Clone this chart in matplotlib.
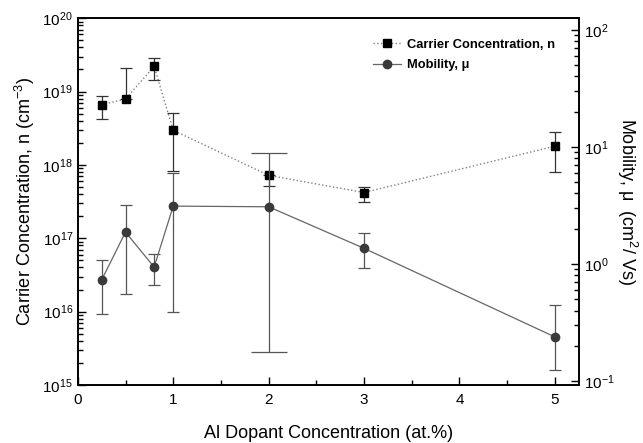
import matplotlib
matplotlib.use('Agg')
import matplotlib.pyplot as plt
import numpy as np

plt.rcParams['font.family'] = ['Liberation Sans', 'DejaVu Sans']
plt.rcParams['mathtext.fontset'] = 'custom'
plt.rcParams['mathtext.rm'] = 'Liberation Sans'

# Al dopant concentration (at.%)
al_conc = [0.25, 0.5, 0.8, 1.0, 2.0, 3.0, 5.0]

# carrier concentration (cm^-3) with lower / upper error limits
carrier = [6.6e18, 7.9e18, 2.2e19, 2.96e18, 7.2e17, 4.2e17, 1.8e18]
carrier_lo = [4.2e18, 7.9e18, 1.43e19, 8.3e17, 5.2e17, 3.1e17, 8.1e17]
carrier_hi = [8.7e18, 2.1e19, 2.9e19, 5.1e18, 7.2e17, 5.0e17, 2.8e18]

# mobility (cm^2/Vs) with lower / upper error limits
mobility = [0.73, 1.87, 0.94, 3.12, 3.08, 1.36, 0.238]
mobility_lo = [0.376, 0.55, 0.655, 0.39, 0.178, 0.92, 0.125]
mobility_hi = [1.075, 3.16, 1.21, 5.97, 8.9, 1.85, 0.45]

c = np.array(carrier)
m = np.array(mobility)
c_err = [c - np.array(carrier_lo), np.array(carrier_hi) - c]
m_err = [m - np.array(mobility_lo), np.array(mobility_hi) - m]

fig = plt.figure(figsize=(6.43, 4.43), dpi=100)
ax = fig.add_axes([0.121, 0.131, 0.779, 0.828])
ax2 = ax.twinx()

ax.errorbar(al_conc, carrier, yerr=c_err, fmt='none', ecolor='#333333',
            elinewidth=0.9, capsize=4, capthick=0.9, zorder=2)
l1, = ax.plot(al_conc, carrier, linestyle=':', color='#808080', lw=1.0,
              marker='s', ms=6, mfc='black', mec='black', zorder=3,
              label='Carrier Concentration, n')

# the 2 at.% point has wider caps in the original
wide = [4]
narrow = [i for i in range(len(al_conc)) if i not in wide]
for idx, cs in ((narrow, 4), (wide, 13)):
    ax2.errorbar([al_conc[i] for i in idx], [mobility[i] for i in idx],
                 yerr=[[m_err[0][i] for i in idx], [m_err[1][i] for i in idx]],
                 fmt='none', ecolor='#555555', elinewidth=0.9,
                 capsize=cs, capthick=0.9, zorder=2)
l2, = ax2.plot(al_conc, mobility, linestyle='-', color='#666666', lw=0.9,
               marker='o', ms=6, mfc='#3a3a3a', mec='#3a3a3a', zorder=3,
               label='Mobility, \u03bc')

ax.set_yscale('log')
ax.set_ylim(1e15, 1e20)
ax.set_xlim(0, 5.25)
ax2.set_yscale('log')
ax2.set_ylim(10 ** -1.034, 10 ** 2.10)

ax.set_xticks([0, 1, 2, 3, 4, 5])
ax.set_xticks(np.arange(0.5, 5.25, 1.0), minor=True)
ax.set_yticks([1e15, 1e16, 1e17, 1e18, 1e19, 1e20])
ax2.set_yticks([1e-1, 1e0, 1e1, 1e2])

ax.tick_params(axis='both', which='both', direction='in', labelsize=11,
               top=False, right=False)
ax.tick_params(axis='both', which='major', length=6, width=1)
ax.tick_params(axis='both', which='minor', length=3.5, width=1)
ax.tick_params(axis='x', which='major', pad=6)
ax2.tick_params(axis='y', which='both', direction='in', labelsize=11)
ax2.tick_params(axis='y', which='major', length=6, width=1)
ax2.tick_params(axis='y', which='minor', length=3.5, width=1)

for a in (ax, ax2):
    for s in a.spines.values():
        s.set_linewidth(1.2)

ax.set_xlabel('Al Dopant Concentration (at.%)', fontsize=13, labelpad=13)
ax.set_ylabel('Carrier Concentration, n (cm$^{-3}$)', fontsize=13, labelpad=4)
ax2.set_ylabel('Mobility, \u03bc  (cm$^2$/ Vs)', fontsize=13, rotation=-90,
               labelpad=18)

ax2.legend([l1, l2], [l1.get_label(), l2.get_label()], loc='upper right',
           bbox_to_anchor=(0.975, 0.975), frameon=False,
           prop={'weight': 'bold', 'size': 9.3}, handlelength=2.2,
           handletextpad=0.4, labelspacing=0.65)

fig.savefig('out.png', dpi=100)
